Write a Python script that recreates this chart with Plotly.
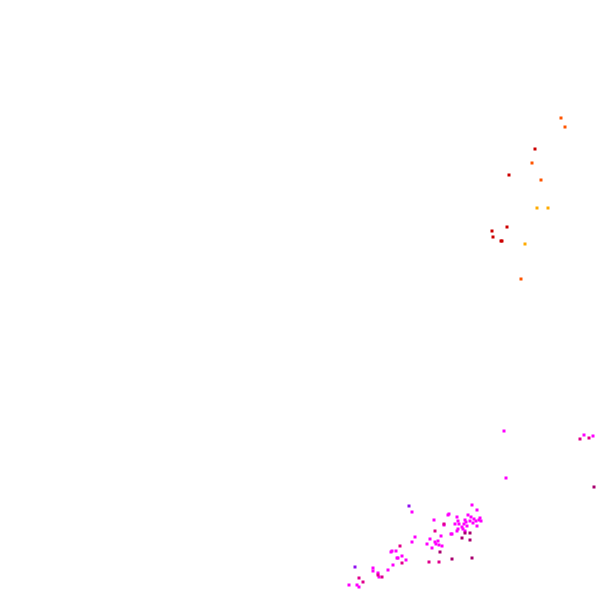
import plotly.graph_objects as go

# point positions (plot units), grouped by colour category
red_x = [535, 509, 507, 492, 493, 501, 502]
red_y = [149, 175, 227, 231, 237, 241, 241]

orangered_x = [561, 565, 532, 541, 521]
orangered_y = [118, 127, 163, 180, 279]

orange_x = [537, 548, 525]
orange_y = [208, 208, 244]

magenta_x = [504, 584, 593, 506, 412, 472, 477, 448, 468, 471, 457, 434, 465, 470, 473, 476, 479,
             481, 458, 455, 459, 464, 444, 477, 467, 462, 458, 463, 457, 465, 452, 441, 415, 430,
             435, 438, 412, 436, 427, 439, 442, 432, 392, 396, 391, 402, 398, 406, 393, 397, 373,
             373, 388, 378, 379, 349, 357, 359, 449, 451, 474, 480, 466]
magenta_y = [431, 435, 436, 478, 512, 505, 510, 515, 515, 517, 517, 520, 520, 521, 523, 521, 520,
             521, 521, 524, 524, 524, 525, 526, 526, 527, 529, 529, 531, 531, 534, 536, 537, 539,
             542, 541, 542, 544, 544, 545, 546, 548, 551, 551, 552, 556, 558, 560, 565, 558, 568,
             571, 570, 573, 577, 585, 585, 587, 514, 534, 519, 518, 522]

deeppink_x = [580, 589, 435, 400, 402, 429, 439, 382, 359, 363, 444, 378]
deeppink_y = [439, 438, 531, 546, 563, 562, 562, 577, 578, 582, 524, 575]

darkmag_x = [594, 465, 470, 462, 470, 440, 452, 472]
darkmag_y = [487, 533, 533, 538, 540, 552, 559, 558]

purple_x = [409, 355]
purple_y = [506, 567]

groups = [
    (red_x, red_y, "#cc0000"),
    (orangered_x, orangered_y, "#ff5500"),
    (orange_x, orange_y, "#ffaa00"),
    (magenta_x, magenta_y, "#ff00ff"),
    (deeppink_x, deeppink_y, "#e0008c"),
    (darkmag_x, darkmag_y, "#a8006e"),
    (purple_x, purple_y, "#9010f0"),
]

fig = go.Figure()
for gx, gy, col in groups:
    fig.add_trace(go.Scatter(
        x=gx, y=gy, mode="markers",
        marker=dict(symbol="square", size=3, color=col, line=dict(width=0)),
        showlegend=False, hoverinfo="skip",
    ))

fig.update_layout(
    width=597, height=589,
    margin=dict(l=0, r=0, t=0, b=0),
    paper_bgcolor="white", plot_bgcolor="white",
    xaxis=dict(range=[0, 597], visible=False, showgrid=False, zeroline=False),
    yaxis=dict(range=[589, 0], visible=False, showgrid=False, zeroline=False),
)

fig.write_html(
    "out.html",
    config={"displayModeBar": False, "staticPlot": True},
    post_script="document.body.style.margin='0';document.body.style.overflow='hidden';",
)
